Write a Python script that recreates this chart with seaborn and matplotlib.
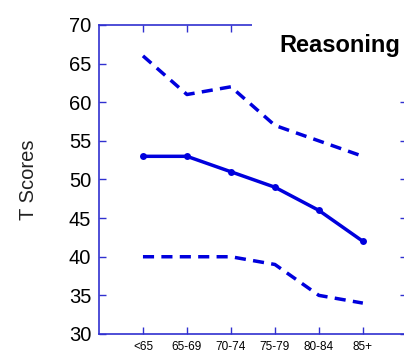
import matplotlib
matplotlib.use("Agg")
import matplotlib.pyplot as plt
import seaborn as sns
import pandas as pd
from matplotlib.patches import Rectangle

sns.set_style("ticks")
plt.rcParams['font.family'] = ['Liberation Sans', 'DejaVu Sans']

categories = ["<65", "65-69", "70-74", "75-79", "80-84", "85+"]
mean_scores = [53, 53, 51, 49, 46, 42]
upper_scores = [66, 61, 62, 57, 55, 53]
lower_scores = [40, 40, 40, 39, 35, 34]
yticks = [30, 35, 40, 45, 50, 55, 60, 65, 70]

pos = list(range(1, len(categories) + 1))
df = pd.DataFrame({"pos": pos, "mean": mean_scores, "upper": upper_scores, "lower": lower_scores})

blue = "#0000dd"
spine_blue = "#3030d0"

fig = plt.figure(figsize=(4.04, 3.61), dpi=100)
ax = fig.add_axes([0.245, 0.0748, 0.762, 0.856])

sns.lineplot(data=df, x="pos", y="mean", ax=ax, color=blue, lw=2.5,
             marker="o", markersize=5, markeredgewidth=0)
for col in ["upper", "lower"]:
    sns.lineplot(data=df, x="pos", y=col, ax=ax, color=blue, lw=2.5,
                 linestyle=(0, (3.2, 2.1)))

ax.set_xlim(0, 7)
ax.set_ylim(30, 70)
ax.set_yticks(yticks)
ax.set_xticks(pos)
ax.set_xticklabels(categories, fontsize=8.5)
ax.tick_params(axis="y", labelsize=14.5, pad=5.5)
ax.tick_params(axis="x", pad=5)
ax.tick_params(direction="in", length=5, color=spine_blue, width=1,
               top=True, right=True, labelcolor="black")
for s in ax.spines.values():
    s.set_color(spine_blue)
    s.set_linewidth(1.2)
ax.set_xlabel("")
ax.set_ylabel("T Scores", fontsize=14.5, color="#222222")
ax.yaxis.set_label_coords(-0.198, 0.5)

ax.add_patch(Rectangle((0.497, 0.867), 0.6, 0.3, transform=ax.transAxes,
                       facecolor="white", edgecolor="none", clip_on=False, zorder=10))
ax.text(0.782, 0.935, "Reasoning", transform=ax.transAxes, fontsize=17,
        fontweight="bold", ha="center", va="center", color="black", zorder=11)

fig.savefig("out.png", dpi=100)
